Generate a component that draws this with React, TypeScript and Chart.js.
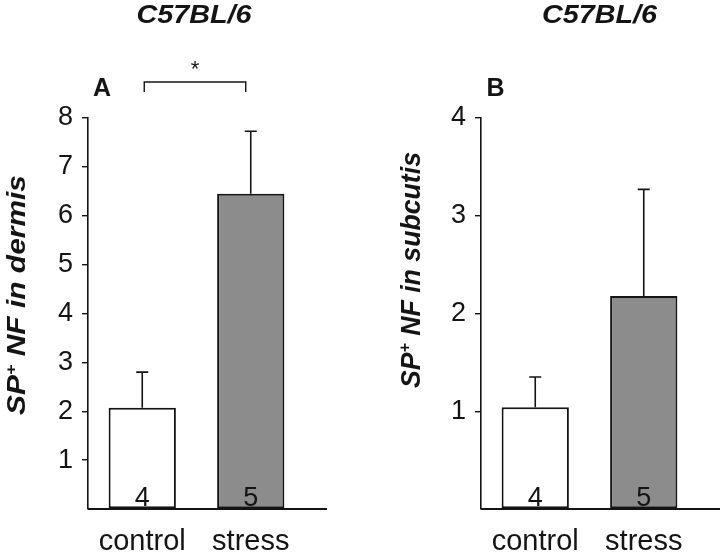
import React, { useEffect, useRef } from "react";
import { Chart, registerables } from "chart.js";

Chart.register(...registerables);

const categories = ["control", "stress"];
const sampleSizes = ["4", "5"];
const titleText = "C57BL/6";

const dermisMeans = [2.07, 6.45];
const dermisErrTop = [2.8, 7.73];
const dermisTicksMax = 8;

const subcutisMeans = [1.04, 2.18];
const subcutisErrTop = [1.35, 3.27];
const subcutisTicksMax = 4;

const FONT = "'Liberation Sans', Arial, sans-serif";
const INK = "#141414";

type PanelProps = {
  means: number[];
  errTop: number[];
  yMax: number;
  letter: string;
  yLabelTail: string;
  yLabelSize: number;
  yLabelLength: number;
  yLabelStart: number;
  yLabelX: number;
  axisLeft: number;
  padRight: number;
  titleX: number;
  letterX: number;
  bracket: boolean;
};

function Panel(p: PanelProps) {
  const ref = useRef<HTMLCanvasElement | null>(null);
  useEffect(() => {
    if (!ref.current) return;
    const overlay = {
      id: "overlay",
      afterDatasetsDraw(chart: any) {
        const ctx = chart.ctx;
        const meta = chart.getDatasetMeta(0);
        const ys = chart.scales.y;
        const area = chart.chartArea;
        ctx.save();
        ctx.strokeStyle = INK;
        ctx.lineWidth = 1.6;
        meta.data.forEach((el: any, i: number) => {
          const yTop = ys.getPixelForValue(p.errTop[i]);
          ctx.beginPath();
          ctx.moveTo(el.x, el.y);
          ctx.lineTo(el.x, yTop);
          ctx.moveTo(el.x - 6, yTop);
          ctx.lineTo(el.x + 6, yTop);
          ctx.stroke();
        });
        ctx.lineWidth = 1.8;
        ctx.beginPath();
        ctx.moveTo(area.left, area.bottom);
        ctx.lineTo(area.right + 22, area.bottom);
        ctx.stroke();
        ctx.fillStyle = INK;
        ctx.font = `27px ${FONT}`;
        ctx.textAlign = "center";
        ctx.textBaseline = "alphabetic";
        meta.data.forEach((el: any, i: number) => {
          ctx.fillText(sampleSizes[i], el.x, area.bottom - 3);
        });
        ctx.restore();
      },
      afterDraw(chart: any) {
        const ctx = chart.ctx;
        const meta = chart.getDatasetMeta(0);
        ctx.save();
        ctx.fillStyle = INK;
        ctx.textBaseline = "middle";
        ctx.textAlign = "center";
        // title, slightly widened like the scan
        ctx.save();
        ctx.translate(p.titleX, 16);
        ctx.scale(1.15, 1);
        ctx.font = `italic bold 25px ${FONT}`;
        ctx.fillText(titleText, 0, 0);
        ctx.restore();
        ctx.font = `bold 25px ${FONT}`;
        ctx.fillText(p.letter, p.letterX, 89);
        if (p.bracket) {
          const x0 = meta.data[0].x + 2;
          const x1 = meta.data[1].x - 5;
          ctx.strokeStyle = INK;
          ctx.lineWidth = 1.4;
          ctx.beginPath();
          ctx.moveTo(x0, 92);
          ctx.lineTo(x0, 82);
          ctx.lineTo(x1, 82);
          ctx.lineTo(x1, 92);
          ctx.stroke();
          ctx.font = `22px ${FONT}`;
          ctx.fillText("*", (x0 + x1) / 2, 70);
        }
        // rotated y label with superscript
        const big = `italic bold ${p.yLabelSize}px ${FONT}`;
        const small = `italic bold ${Math.round(p.yLabelSize * 0.6)}px ${FONT}`;
        ctx.font = big;
        const wSP = ctx.measureText("SP").width;
        const wTail = ctx.measureText(p.yLabelTail).width;
        ctx.font = small;
        const wPlus = ctx.measureText("+").width;
        const total = wSP + wPlus + wTail;
        ctx.translate(p.yLabelX, p.yLabelStart);
        ctx.rotate(-Math.PI / 2);
        ctx.scale(p.yLabelLength / total, 1);
        ctx.textAlign = "left";
        ctx.textBaseline = "alphabetic";
        let x = 0;
        ctx.font = big;
        ctx.fillText("SP", x, 0);
        x += wSP;
        ctx.font = small;
        ctx.fillText("+", x, -p.yLabelSize * 0.38);
        x += wPlus;
        ctx.font = big;
        ctx.fillText(p.yLabelTail, x, 0);
        ctx.restore();
      },
    };
    const chart = new Chart(ref.current, {
      type: "bar",
      data: {
        labels: categories,
        datasets: [
          {
            data: p.means,
            backgroundColor: ["#ffffff", "#8c8c8c"],
            borderColor: INK,
            borderWidth: 2,
            borderSkipped: false,
            categoryPercentage: 1,
            barPercentage: 0.62,
          },
        ],
      },
      options: {
        animation: false,
        responsive: false,
        maintainAspectRatio: false,
        layout: { padding: { top: 118, right: p.padRight, left: 0, bottom: 0 } },
        plugins: { legend: { display: false }, tooltip: { enabled: false } },
        scales: {
          x: {
            grid: { display: false },
            border: { display: false },
            ticks: { color: INK, font: { family: FONT, size: 29 }, padding: 8 },
            afterFit: (s: any) => {
              s.height = 46;
            },
          },
          y: {
            min: 0,
            max: p.yMax,
            grid: {
              drawOnChartArea: false,
              drawTicks: true,
              tickLength: 6,
              color: (c: any) => (c.tick && c.tick.value === 0 ? "rgba(0,0,0,0)" : INK),
              lineWidth: 1.4,
            },
            border: { display: true, color: INK, width: 1.6 },
            ticks: {
              stepSize: 1,
              color: INK,
              font: { family: FONT, size: 27 },
              padding: 9,
              callback: (v: any) => (v === 0 ? "" : String(v)),
            },
            afterFit: (s: any) => {
              s.width = p.axisLeft;
            },
          },
        },
      },
      plugins: [overlay],
    });
    return () => chart.destroy();
  }, []);
  return <canvas ref={ref} width={360} height={555} style={{ display: "block", width: 360, height: 555 }} />;
}

export default function App() {
  return (
    <div style={{ position: "fixed", left: 0, top: 0, width: 720, height: 555, background: "#fff", display: "flex" }}>
      <Panel
        means={dermisMeans}
        errTop={dermisErrTop}
        yMax={dermisTicksMax}
        letter="A"
        yLabelTail=" NF in dermis"
        yLabelSize={25}
        yLabelLength={240}
        yLabelStart={415}
        yLabelX={25}
        axisLeft={88}
        padRight={55}
        titleX={194}
        letterX={102}
        bracket={true}
      />
      <Panel
        means={subcutisMeans}
        errTop={subcutisErrTop}
        yMax={subcutisTicksMax}
        letter="B"
        yLabelTail=" NF in subcutis"
        yLabelSize={27}
        yLabelLength={236}
        yLabelStart={388}
        yLabelX={60}
        axisLeft={121}
        padRight={22}
        titleX={239.5}
        letterX={135.5}
        bracket={false}
      />
    </div>
  );
}
